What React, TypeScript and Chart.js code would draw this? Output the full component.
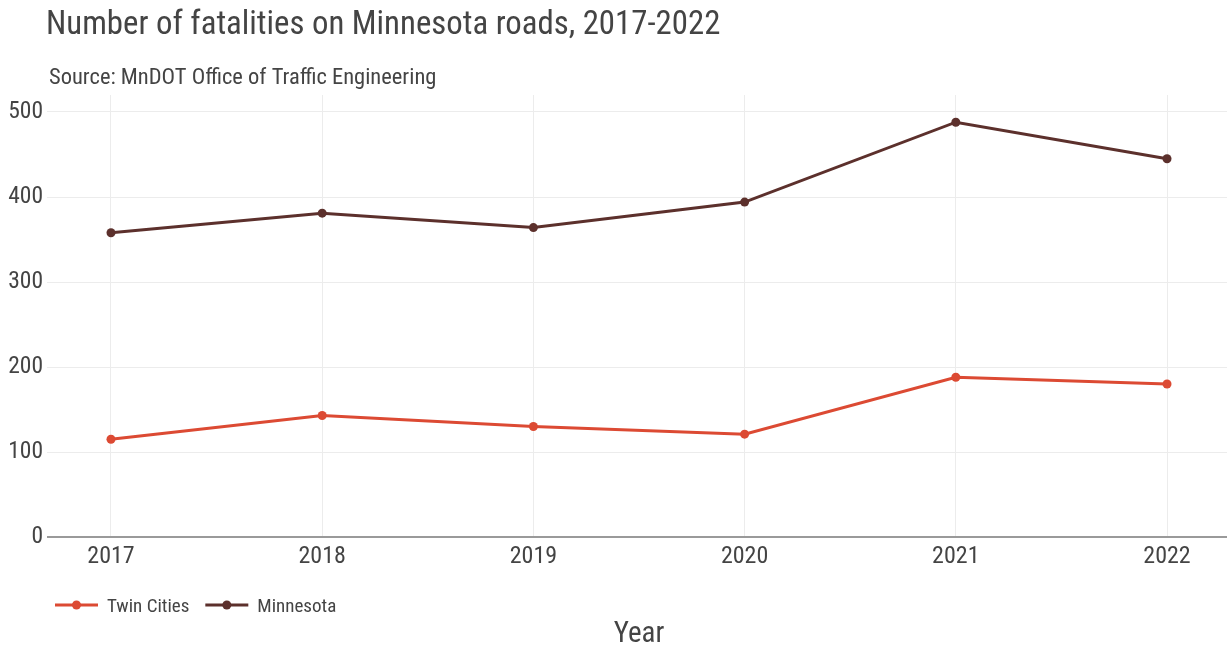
import React, { useEffect, useRef } from "react";
import { Chart, registerables } from "chart.js";

Chart.register(...registerables);

const years = [2017, 2018, 2019, 2020, 2021, 2022];
const twinCities = [115, 143, 130, 121, 188, 180];
const minnesota = [358, 381, 364, 394, 488, 445];
const yTickValues = [0, 100, 200, 300, 400, 500];
const seriesNames = ["Twin Cities", "Minnesota"];
const seriesColors = ["#dc4a33", "#5c302c"];
const titleText = "Number of fatalities on Minnesota roads, 2017-2022";
const subtitleText = "Source: MnDOT Office of Traffic Engineering";
const xTitleText = "Year";

const FONT = "'Roboto Condensed', 'Liberation Sans Narrow', Roboto, sans-serif";
const TEXT = "#444444";

const overlay = {
  id: "overlayText",
  afterDraw(chart: any) {
    const ctx = chart.ctx;
    const ca = chart.chartArea;
    ctx.save();
    ctx.fillStyle = TEXT;
    ctx.textBaseline = "alphabetic";
    ctx.textAlign = "left";
    ctx.font = `32.8px ${FONT}`;
    ctx.fillText(titleText, 46, 34);
    ctx.font = `22.5px ${FONT}`;
    ctx.fillText(subtitleText, 49, 84);

    // legend
    ctx.font = `19px ${FONT}`;
    const ly = 605;
    let x = 55;
    chart.data.datasets.forEach((ds: any) => {
      ctx.strokeStyle = ds.borderColor;
      ctx.lineWidth = 3;
      ctx.beginPath();
      ctx.moveTo(x, ly);
      ctx.lineTo(x + 43, ly);
      ctx.stroke();
      ctx.fillStyle = ds.borderColor;
      ctx.beginPath();
      ctx.arc(x + 21.5, ly, 4.5, 0, Math.PI * 2);
      ctx.fill();
      ctx.fillStyle = TEXT;
      ctx.fillText(ds.label, x + 52, 612);
      x += 52 + ctx.measureText(ds.label).width + 16;
    });

    ctx.font = `29px ${FONT}`;
    ctx.textAlign = "center";
    ctx.fillText(xTitleText, (ca.left + ca.right) / 2 + 2, 642);
    ctx.restore();
  },
};

export default function App() {
  const ref = useRef<HTMLCanvasElement | null>(null);
  useEffect(() => {
    if (!ref.current) return;
    const chart = new Chart(ref.current, {
      type: "line",
      data: {
        datasets: [
          {
            label: seriesNames[0],
            data: years.map((y, i) => ({ x: y, y: twinCities[i] })),
            borderColor: seriesColors[0],
            backgroundColor: seriesColors[0],
            borderWidth: 3,
            pointRadius: 4.5,
            pointBorderWidth: 0,
            tension: 0,
          },
          {
            label: seriesNames[1],
            data: years.map((y, i) => ({ x: y, y: minnesota[i] })),
            borderColor: seriesColors[1],
            backgroundColor: seriesColors[1],
            borderWidth: 3,
            pointRadius: 4.5,
            pointBorderWidth: 0,
            tension: 0,
          },
        ],
      },
      options: {
        responsive: false,
        animation: false,
        layout: { autoPadding: false, padding: { top: 95, bottom: 80, left: 0, right: 0 } },
        plugins: {
          legend: { display: false },
          title: { display: false },
          tooltip: { enabled: false },
        },
        scales: {
          x: {
            type: "linear",
            min: 2016.697,
            max: 2022.284,
            afterBuildTicks: (s: any) => {
              s.ticks = years.map((v) => ({ value: v }));
            },
            afterFit: (s: any) => {
              s.height = 30;
              s.paddingRight = 0;
              s.paddingLeft = 0;
            },
            border: { display: false },
            grid: { color: "#ececec", lineWidth: 1, drawTicks: false },
            ticks: {
              padding: 6,
              color: TEXT,
              font: { family: FONT, size: 24 },
              callback: (v: any) => String(v),
            },
          },
          y: {
            min: 0,
            max: 520,
            afterBuildTicks: (s: any) => {
              s.ticks = yTickValues.map((v) => ({ value: v }));
            },
            afterFit: (s: any) => {
              s.width = 47;
            },
            border: { display: false },
            grid: {
              drawTicks: false,
              color: (c: any) => (c.tick && c.tick.value === 0 ? "#9a9a9a" : "#ececec"),
              lineWidth: (c: any) => (c.tick && c.tick.value === 0 ? 2 : 1),
            },
            ticks: {
              padding: 4,
              color: TEXT,
              font: { family: FONT, size: 23.5 },
            },
          },
        },
      },
      plugins: [overlay],
    });
    return () => chart.destroy();
  }, []);
  return (
    <div style={{ position: "absolute", left: 0, top: 0, width: 1227, height: 647, background: "#fff" }}>
      <canvas ref={ref} width={1227} height={647} style={{ display: "block" }} />
    </div>
  );
}
